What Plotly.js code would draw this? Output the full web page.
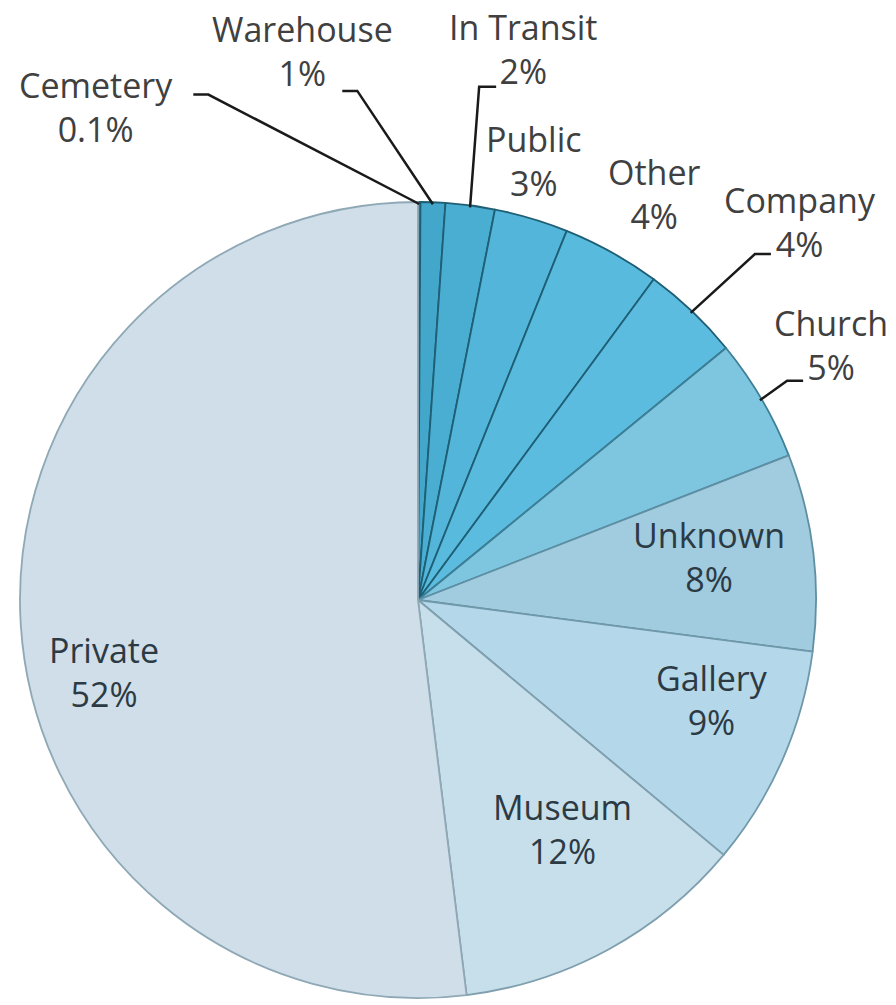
<!DOCTYPE html>
<html><head><meta charset="utf-8">
<script src="https://cdn.plot.ly/plotly-3.0.1.min.js"></script>
<style>html,body{margin:0;padding:0;background:#fff}</style>
</head><body><div id="chart" style="width:896px;height:1005px"></div>
<script>
// ---- data ----
const categories = ['Cemetery','Warehouse','In Transit','Public','Other','Company','Church','Unknown','Gallery','Museum','Private'];
const shares = [0.1, 1, 2, 3, 4, 4, 5, 8, 9, 12, 52];
const shareLabels = ['0.1%','1%','2%','3%','4%','4%','5%','8%','9%','12%','52%'];

// ---- styles ----
const sliceColors = ['#3a9fc4','#42a7cb','#49aed2','#52b5d9','#58badd','#5cbcdf','#7ec5df','#a1cbde','#b4d8e9','#c7dfeb','#cfdee8'];
const sliceLines  = ['#1f5f75','#1f5f75','#1f5f75','#1f5f75','#1f5f75','#1f5f75','#3d7f96','#5f8fa3','#6f98aa','#7f9fae','#8fa8b5'];
const inside      = [false,false,false,false,false,false,false,true,true,true,true];

// ---- placement (pixels / polar) ----
const W = 896, H = 1005, CX = 418, CY = 600, R = 398;
const labelAngle  = [326.9, 348.1, 10.8, 14.8, 30.2, 45.3, 58.3, 81.6, 108.7, 147.8, 257.1];
const labelRadius = [1.48, 1.41, 1.41, 1.14, 1.18, 1.35, 1.22, 0.74, 0.78, 0.68, 0.81];
// leader: [startDx, startDy, elbowDx, elbowDy] relative to label centre, or null
const leaders = [[97,-12,112,-12],[40,40,55,40],[-27,38,-44,38],null,null,[-29,32,-45,32],[-28,36,-44,36],null,null,null,null];

const px = x => x / W, py = y => 1 - y / H;
const polar = (deg, r) => [CX + r * Math.sin(deg*Math.PI/180), CY - r * Math.cos(deg*Math.PI/180)];

const total = shares.reduce((a,b)=>a+b,0);
let cum = 0;
const midAngles = shares.map(v => { const m = (cum + v/2) / total * 360; cum += v; return m; });

const annotations = [], shapes = [];
categories.forEach((c,i) => {
  const [lx, ly] = polar(labelAngle[i], labelRadius[i]*R);
  annotations.push({
    xref:'paper', yref:'paper', x:px(lx), y:py(ly), xanchor:'center', yanchor:'middle',
    text: c + '<br>' + shareLabels[i], showarrow:false, align:'center',
    font:{family:'"Open Sans", sans-serif', size:34, color: inside[i] ? '#2c3a44' : '#404040'}
  });
  if (leaders[i]) {
    const L = leaders[i];
    const [ex, ey] = polar(midAngles[i], R - 2);
    shapes.push({
      type:'path', xref:'paper', yref:'paper',
      path:`M ${px(lx+L[0])} ${py(ly+L[1])} L ${px(lx+L[2])} ${py(ly+L[3])} L ${px(ex)} ${py(ey)}`,
      line:{color:'#1a1a1a', width:2.5}
    });
  }
});

const trace = {
  type:'pie', labels:categories, values:shares, sort:false, direction:'clockwise', rotation:0,
  textinfo:'none', hoverinfo:'label+percent', showlegend:false,
  marker:{colors:sliceColors, line:{color:sliceLines, width:1.8}},
  domain:{x:[(CX-R)/W,(CX+R)/W], y:[1-(CY+R)/H, 1-(CY-R)/H]}
};

Plotly.newPlot('chart', [trace], {
  width:W, height:H, margin:{l:0,r:0,t:0,b:0}, paper_bgcolor:'#fff',
  annotations, shapes
}, {displayModeBar:false, staticPlot:true});
</script></body></html>
